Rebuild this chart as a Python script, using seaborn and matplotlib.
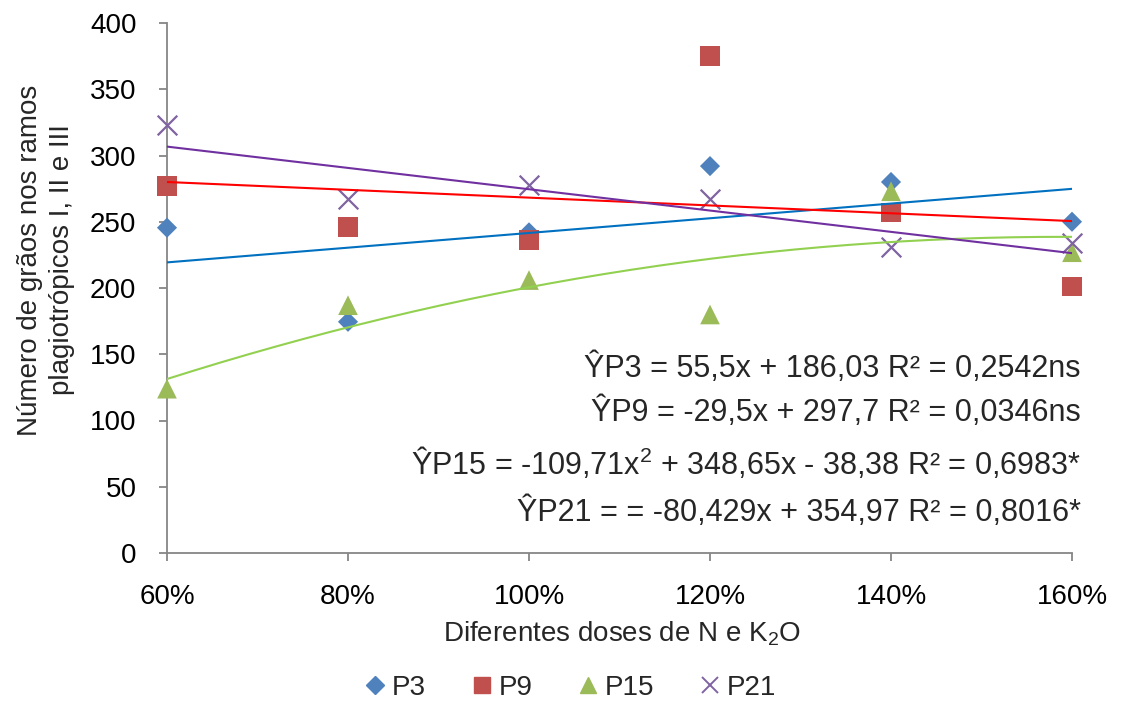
import matplotlib
matplotlib.use("Agg")
import matplotlib.pyplot as plt
import seaborn as sns
import numpy as np
import pandas as pd
from matplotlib.lines import Line2D

# ---- data ----
doses = [0.6, 0.8, 1.0, 1.2, 1.4, 1.6]
dose_labels = ["60%", "80%", "100%", "120%", "140%", "160%"]
p3 = [245.5, 174.5, 242, 292, 280, 250]
p9 = [277, 246, 236, 375, 257, 201]
p15 = [124, 187, 206, 180, 273, 227]
p21 = [323, 267, 278, 267, 231, 234]

# trendline coefficients as printed on the chart (highest power first)
coef_p3 = [55.5, 186.03]
coef_p9 = [-29.5, 297.7]
coef_p15 = [-109.71, 348.65, -38.38]
coef_p21 = [-80.429, 354.97]

equations = [
    "ŶP3 = 55,5x + 186,03 R² = 0,2542ns",
    "ŶP9 = -29,5x + 297,7 R² = 0,0346ns",
    "ŶP15 = -109,71x$^\\mathregular{2}$ + 348,65x - 38,38 R² = 0,6983*",
    "ŶP21 = = -80,429x + 354,97 R² = 0,8016*",
]

yticks = [0, 50, 100, 150, 200, 250, 300, 350, 400]

sns.set_theme(style="white")
plt.rcParams["font.family"] = ["Liberation Sans", "DejaVu Sans"]
plt.rcParams["mathtext.fontset"] = "custom"
plt.rcParams["mathtext.rm"] = "Liberation Sans"
plt.rcParams["mathtext.it"] = "Liberation Sans:italic"

fig = plt.figure(figsize=(11.22, 7.04), dpi=100)
ax = fig.add_axes([167/1122, 1-553/704, (1072-167)/1122, (553-23)/704])

series = [
    ("P3", p3, coef_p3, "D", "#4F81BD", "#0070C0", 105),
    ("P9", p9, coef_p9, "s", "#C0504D", "#FF0000", 200),
    ("P15", p15, coef_p15, "^", "#9BBB59", "#92D050", 200),
    ("P21", p21, coef_p21, "x", "#8064A2", "#7030A0", 200),
]

xs = np.linspace(doses[0], doses[-1], 200)
for name, vals, coef, mk, mcol, lcol, s in series:
    df = pd.DataFrame({"x": doses, "y": vals})
    if mk == "x":
        sns.scatterplot(data=df, x="x", y="y", marker="x", s=s, color=mcol,
                        linewidth=1.6, ax=ax, zorder=3, clip_on=False)
    else:
        sns.scatterplot(data=df, x="x", y="y", marker=mk, s=s, color=mcol,
                        edgecolor="none", linewidth=0, ax=ax, zorder=3, clip_on=False)
    tdf = pd.DataFrame({"x": xs, "y": np.polyval(coef, xs)})
    sns.lineplot(data=tdf, x="x", y="y", color=lcol, linewidth=1.5, ax=ax, zorder=4)

ax.set_xlim(0.6, 1.6)
ax.set_ylim(0, 400)
ax.set_xticks(doses)
ax.set_xticklabels(dose_labels)
ax.set_yticks(yticks)
ax.set_yticklabels([str(v) for v in yticks])
ax.set_xlabel("")
ax.set_ylabel("")

for sp in ["top", "right"]:
    ax.spines[sp].set_visible(False)
for sp in ["left", "bottom"]:
    ax.spines[sp].set_color("#868686")
    ax.spines[sp].set_linewidth(1.3)

ax.tick_params(axis="both", which="major", direction="out", length=6, width=1.3,
               color="#868686", labelsize=20, labelcolor="black")
ax.tick_params(axis="x", pad=16, bottom=True)
ax.tick_params(axis="y", pad=16, left=True)

fig.text(622/1122, 1-634/704, "Diferentes doses de N e K$_\\mathregular{2}$O",
         ha="center", va="center", fontsize=20)
fig.text(46/1122, 1-260/704, "Número de grãos nos ramos\nplagiotrópicos I, II e III",
         ha="center", va="center", rotation=90, fontsize=20, multialignment="center",
         linespacing=1.3)

eq_y = [368, 412, 463, 512]
for txt, yy in zip(equations, eq_y):
    fig.text(1081/1122, 1-yy/704, txt, ha="right", va="center", fontsize=22)

handles = [
    Line2D([], [], marker="D", color="#4F81BD", linestyle="none", markersize=9),
    Line2D([], [], marker="s", color="#C0504D", linestyle="none", markersize=11),
    Line2D([], [], marker="^", color="#9BBB59", linestyle="none", markersize=11),
    Line2D([], [], marker="x", color="#8064A2", linestyle="none", markersize=11,
           markeredgewidth=1.4),
]
fig.legend(handles, ["P3", "P9", "P15", "P21"], loc="center",
           bbox_to_anchor=(570/1122, 1-688/704), ncol=4, frameon=False,
           fontsize=20, handlelength=0.8, handletextpad=0.2, columnspacing=1.6)

fig.savefig("out.png", dpi=100)
